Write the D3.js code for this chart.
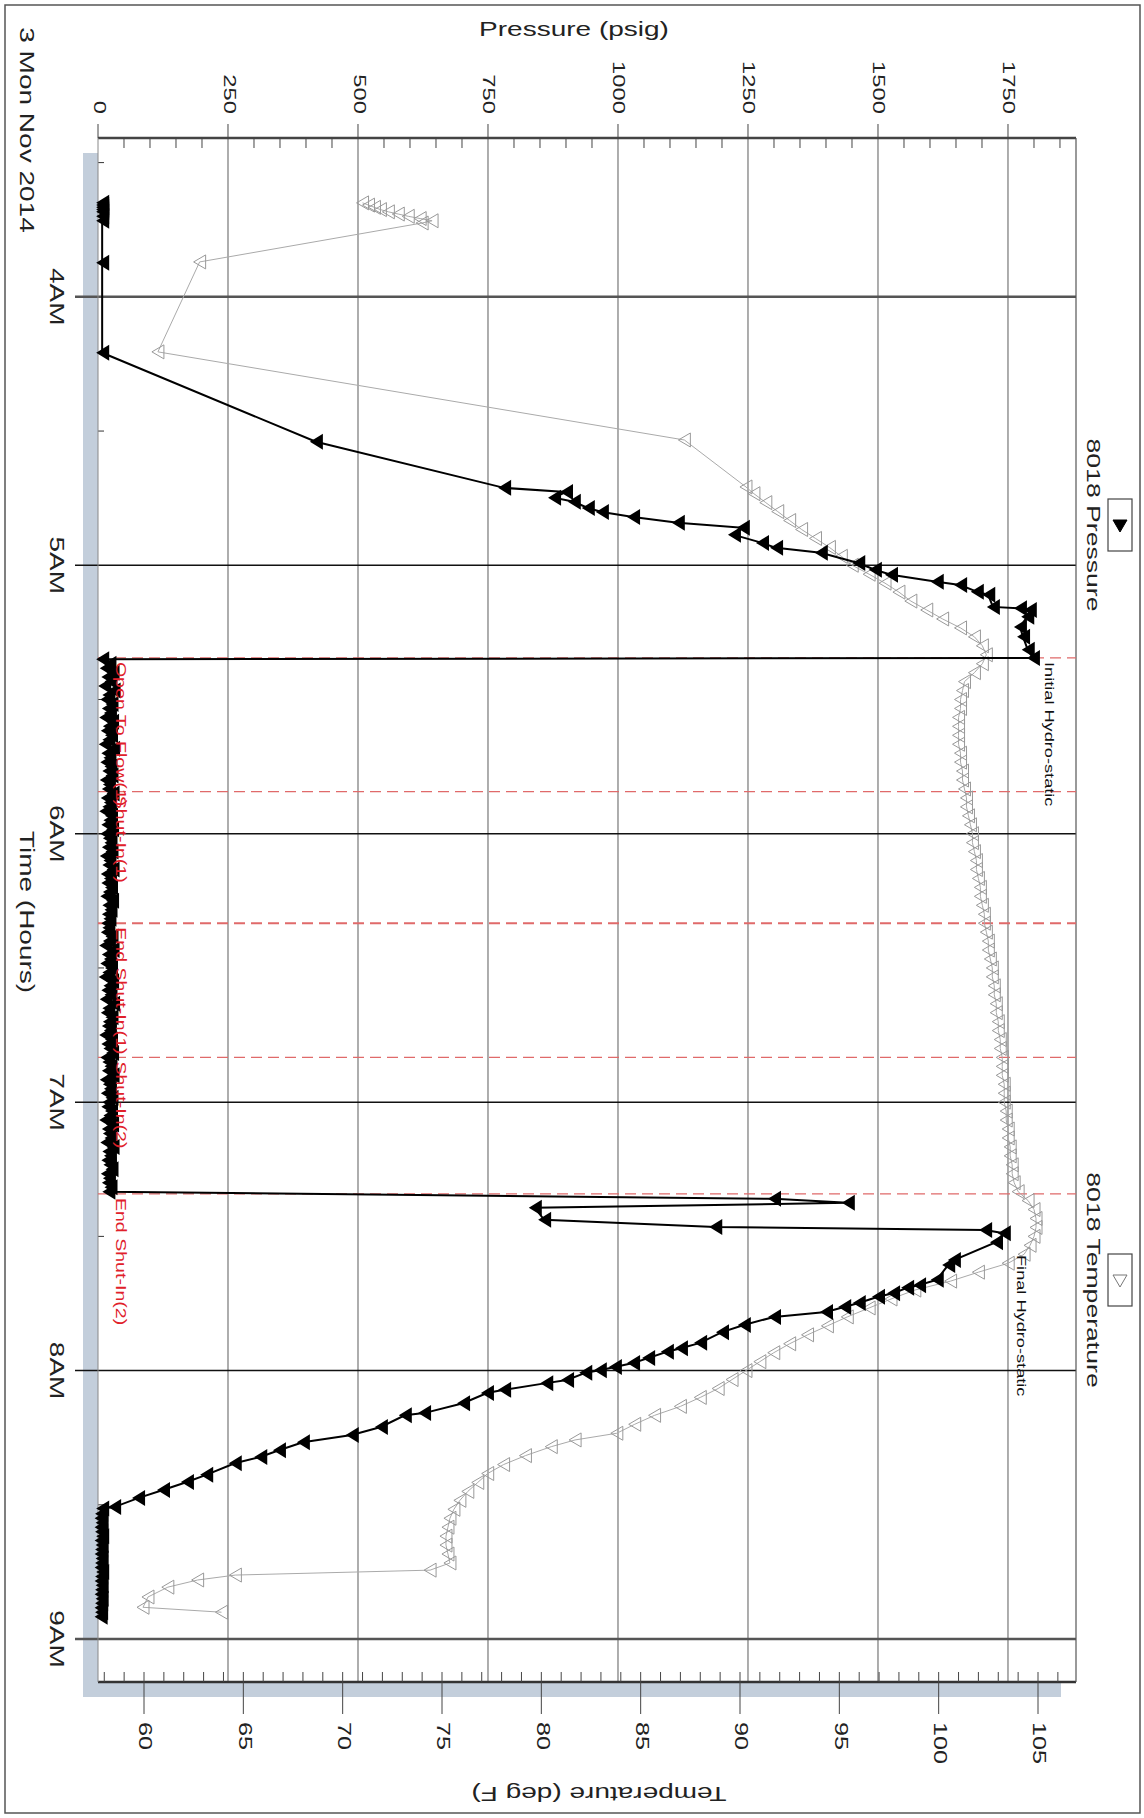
<!DOCTYPE html>
<html><head><meta charset="utf-8">
<script src="https://cdn.jsdelivr.net/npm/d3@7"></script>
<style>body{margin:0;background:#fff}svg{display:block;font-family:"Liberation Sans",Arial,sans-serif}</style>
</head><body>
<svg id="c" width="1144" height="1818"></svg>
<script>
// Time is in minutes after 03:00 on 3 Mon Nov 2014
const hourTicks = [60,120,180,240,300,360];
const hourLabels = ["4AM","5AM","6AM","7AM","8AM","9AM"];
const pressureTicks = [0,250,500,750,1000,1250,1500,1750];
const tempTicks = [60,65,70,75,80,85,90,95,100,105];

const pTimeA = [39,39.5,40,40.5,41,42,43,52.4,72.5,92.4,102.7,103.6,104.9,105.8,107.2,108.1,109.2,110.5,111.6,113.2,115.0,116.1,117.2,119.5,121.0,122.1,123.7,124.4,125.9,126.6,129.3,129.6,130.0,131.5,133.8,136.0,138.9,140.7,141.0];
const pValA  = [8,8,8,8,8,8,8,8,8,419,781,900,877,915,942,969,1029,1115,1240,1223,1277,1304,1390,1462,1494,1525,1613,1658,1690,1712,1721,1773,1792,1787,1773,1779,1788,1798,8];
// flow / shut-in period, gauge readings every minute from 142 to 260
const flowStart = 142, flowStep = 1;
const flowPressure = [22,15,28,18,24,12,30,20,16,26,19,23,14,27,21,17,25,20,13,29,18,22,16,24,20,26,15,21,19,28,17,23,20,14,25,22,18,27,16,21,24,19,26,15,22,20,28,17,23,18,25,21,16,27,20,24,19,22,18,20,
  17,26,21,14,28,19,23,16,25,20,13,27,22,18,24,15,29,20,17,26,21,19,23,14,25,18,22,27,16,20,24,19,28,15,21,23,17,26,20,18,25,22,14,27,19,21,24,16,28,20,23,18,22,26,17,21,19,24,20];
const pTimeB = [261.6,262.5,263.6,266.3,267.9,268.6,269.3,271.3,275.3,276.4,279.7,280.9,281.5,282.7,283.5,284.9,285.8,286.9,288.0,289.8,291.4,293.8,295.0,295.8,297.2,298.3,299.2,299.9,300.5,302.1,302.8,304.3,305.0,307.3,309.5,310.0,312.6,314.4,316.0,317.8,319.3,320.7,323.3,324.9,326.7,328.5,330.5,330.8,332,333,334,335,336,337,338,339,340,341,342,343,344,345,346,347,348,349,350,351,352,353,354,355];
const pValB  = [1300,1442,840,858,1187,1706,1742,1727,1646,1635,1613,1579,1556,1529,1500,1463,1435,1400,1300,1242,1200,1158,1121,1094,1058,1029,994,965,937,902,862,781,748,702,627,590,544,488,394,348,312,263,208,171,125,77,31,8,6,5,7,5,6,8,5,7,6,5,7,6,5,8,6,5,7,6,5,7,6,5,6,5];

const tempTime = [39,39.5,40,40.5,41,41.5,42,42.5,43,43.5,52.2,72.3,92,102.5,104,106,108,110,112,114,116,118,120,122,124,126,128,130,132,134,136,138,140,142,144,146,148,150,152,154,156,158,160,162,164,166,168,170,172,174,176,178,180,182,184,186,188,190,192,194,196,198,200,202,204,206,208,210,212,214,216,218,220,222,224,226,228,230,232,234,236,238,240,242,244,246,248,250,252,254,256,258,260,262,264,266,268,270,272,274,276,278,280,282,284,286,288,290,292,294,296,298,300,302,304,306,308,310,312,314,315.5,317,319,321,323,325,327,329,331,333,335,337,339,341,343,344.6,345.7,346.8,348.4,350.6,352.9,354];
const tempVal  = [71.0,71.3,71.6,71.9,72.3,72.8,73.3,73.9,74.5,74.0,62.8,60.7,87.2,90.3,90.7,91.3,91.9,92.5,93.1,93.8,94.5,95.1,95.65,96.5,97.3,98.0,98.6,99.4,100.2,101.1,101.8,102.2,102.4,102.2,101.8,101.3,101.2,101.1,101.1,101.0,101.0,101.0,101.0,101.1,101.1,101.2,101.2,101.3,101.4,101.4,101.5,101.6,101.7,101.7,101.8,101.9,101.9,102.0,102.1,102.1,102.2,102.3,102.3,102.4,102.5,102.5,102.6,102.7,102.7,102.8,102.8,102.9,102.9,103.0,103.0,103.1,103.1,103.2,103.2,103.2,103.3,103.3,103.3,103.4,103.4,103.5,103.5,103.6,103.6,103.7,103.7,103.8,104.0,104.5,104.8,104.9,104.9,104.8,104.6,104.3,103.5,102.0,100.6,98.8,97.6,96.5,95.4,94.4,93.4,92.5,91.7,91.0,90.3,89.6,88.9,88.0,87.0,85.7,84.7,83.8,81.7,80.5,79.2,78.1,77.3,76.8,76.3,75.9,75.6,75.4,75.3,75.2,75.2,75.3,75.4,74.4,64.6,62.7,61.2,60.2,59.95,63.9];

const events = [
  {t:140.7, label:"Open To Flow(1)", w:1.2},
  {t:170.6, label:"Shut-In(1)", w:1.2},
  {t:200, label:"End Shut-In(1)", w:2},
  {t:230, label:"Shut-In(2)", w:1.2},
  {t:260.5, label:"End Shut-In(2)", w:1.2}
];

const svg = d3.select("#c");
const L=98,R=1076,T=138,B=1682;
const SX=1.4;
const x = d3.scaleLinear().domain([0,1880.8]).range([L,R]);
const tx = d3.scaleLinear().domain([60,105]).range([144,1038]);
const y = d3.scaleLinear().domain([24.5,369.6]).range([T,B]);

function txt(px,py,rot,s,size,anchor,fill){
  return svg.append("text").attr("transform",`translate(${px},${py}) rotate(${rot}) scale(${SX},1)`)
    .attr("text-anchor",anchor).attr("dominant-baseline","middle").attr("font-size",size).attr("fill",fill||"#222").text(s);
}

svg.append("rect").attr("x",5).attr("y",5).attr("width",1135).attr("height",1808).attr("fill","none").attr("stroke","#555").attr("stroke-width",1.5);
svg.append("rect").attr("x",L-15).attr("y",T+15).attr("width",R-L).attr("height",B-T).attr("fill","#c3cedb");
svg.append("rect").attr("x",L).attr("y",T).attr("width",R-L).attr("height",B-T).attr("fill","#fff");

svg.selectAll(".pg").data(pressureTicks.slice(1)).join("line")
  .attr("x1",d=>x(d)).attr("x2",d=>x(d)).attr("y1",T).attr("y2",B).attr("stroke","#777").attr("stroke-width",1.2);
svg.selectAll(".hl").data(hourTicks).join("line")
  .attr("x1",75).attr("x2",R).attr("y1",d=>y(d)).attr("y2",d=>y(d))
  .attr("stroke",(d,i)=>(i==0||i==5)?"#555":"#111").attr("stroke-width",(d,i)=>(i==0||i==5)?2.5:1.5);
svg.selectAll(".hh").data([30,90,150,210,270,330]).join("line")
  .attr("x1",L).attr("x2",L+6).attr("y1",d=>y(d)).attr("y2",d=>y(d)).attr("stroke","#333");

svg.append("line").attr("x1",L).attr("x2",R).attr("y1",T).attr("y2",T).attr("stroke","#444").attr("stroke-width",2.5);
svg.append("line").attr("x1",L).attr("x2",R).attr("y1",B).attr("y2",B).attr("stroke","#333").attr("stroke-width",2.5);
svg.append("line").attr("x1",L).attr("x2",L).attr("y1",T).attr("y2",B).attr("stroke","#888").attr("stroke-width",1);
svg.append("line").attr("x1",R).attr("x2",R).attr("y1",T).attr("y2",B).attr("stroke","#555").attr("stroke-width",1.2);

svg.selectAll(".pm").data(d3.range(0,1851,50)).join("line")
  .attr("x1",d=>x(d)).attr("x2",d=>x(d)).attr("y1",T).attr("y2",d=>d%250==0?T:T+10).attr("stroke","#444");
svg.selectAll(".pM").data(pressureTicks).join("line")
  .attr("x1",d=>x(d)).attr("x2",d=>x(d)).attr("y1",T-14).attr("y2",T).attr("stroke","#444");
pressureTicks.forEach(d=>txt(x(d),T-24,90,d,17,"end"));
txt(574,31,0,"Pressure (psig)",20,"middle");

svg.selectAll(".tm").data(d3.range(58,107,1)).join("line")
  .attr("x1",d=>tx(d)).attr("x2",d=>tx(d)).attr("y1",B-10).attr("y2",B).attr("stroke","#444");
svg.selectAll(".tM").data(tempTicks).join("line")
  .attr("x1",d=>tx(d)).attr("x2",d=>tx(d)).attr("y1",B).attr("y2",B+32).attr("stroke","#444");
tempTicks.forEach(d=>txt(tx(d),B+40,90,d,18,"start"));
txt(599,1792,180,"Temperature (deg F)",20,"middle");

hourTicks.forEach((d,i)=>txt(55,y(d),90,hourLabels[i],20,"middle"));
txt(25,130,90,"3 Mon Nov 2014",20,"middle");
txt(25,912,90,"Time (Hours)",20,"middle");

svg.selectAll(".ev").data(events).join("line")
  .attr("x1",L).attr("x2",R).attr("y1",d=>y(d.t)).attr("y2",d=>y(d.t))
  .attr("stroke","#e06a6a").attr("stroke-width",d=>d.w).attr("stroke-dasharray","11,6");

const tData = tempTime.map((t,i)=>({t,v:tempVal[i]}));
svg.append("path").datum(tData).attr("fill","none").attr("stroke","#aaa").attr("stroke-width",1)
  .attr("d",d3.line().x(d=>tx(d.v)).y(d=>y(d.t)));
svg.selectAll(".tmk").data(tData).join("path")
  .attr("transform",d=>`translate(${tx(d.v)},${y(d.t)})`)
  .attr("d","M-6,0L6,-7L6,7Z").attr("fill","none").attr("stroke","#999").attr("stroke-width",1);

const flowData = flowPressure.map((v,i)=>({t:flowStart+i*flowStep,v}));
const pData = pTimeA.map((t,i)=>({t,v:pValA[i]})).concat(flowData, pTimeB.map((t,i)=>({t,v:pValB[i]})));
svg.append("path").datum(pData).attr("fill","none").attr("stroke","#000").attr("stroke-width",2)
  .attr("d",d3.line().x(d=>x(d.v)).y(d=>y(d.t)));
svg.selectAll(".pmk").data(pData).join("path")
  .attr("transform",d=>`translate(${x(d.v)},${y(d.t)})`)
  .attr("d","M-6,0L7,-8L7,8Z").attr("fill","#000");

events.forEach(d=>txt(120,y(d.t)+4,90,d.label,14,"start","#e0202a"));

txt(1048,662,90,"Initial Hydro-static",13,"start","#111");
txt(1020,1255,90,"Final Hydro-static",13,"start","#111");

function legend(cy,label,filled){
  txt(1092,cy,90,label,19,"middle");
  svg.append("rect").attr("x",1108).attr("y",cy-26).attr("width",24).attr("height",52).attr("fill","#fff").attr("stroke","#444").attr("stroke-width",1.2);
  svg.append("path").attr("transform",`translate(1120,${cy})`).attr("d","M-7,-5L7,-5L0,7Z")
    .attr("fill",filled?"#000":"none").attr("stroke",filled?"#000":"#777");
}
legend(525,"8018 Pressure",true);
legend(1280,"8018 Temperature",false);
</script></body></html>
